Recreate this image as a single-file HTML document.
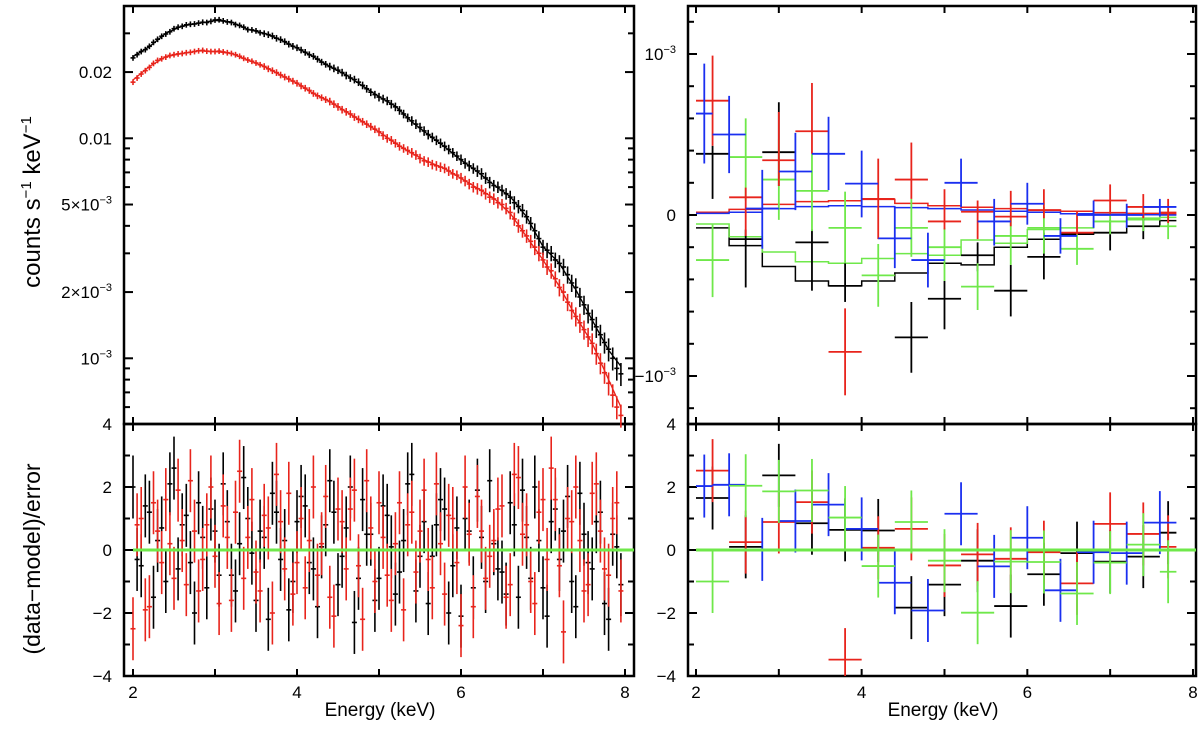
<!DOCTYPE html>
<html><head><meta charset="utf-8"><style>
html,body{margin:0;padding:0;background:#fff;}
svg{display:block;font-family:"Liberation Sans",sans-serif;}
</style></head><body>
<svg id="chart" width="1200" height="730" viewBox="0 0 1200 730" xmlns="http://www.w3.org/2000/svg">
<rect x="0" y="0" width="1200" height="730" fill="#fff"/>
<g id="layer"></g>
<text transform="translate(40,202) rotate(-90)" text-anchor="middle" font-size="24">counts s<tspan font-size="15" dy="-9">−1</tspan><tspan dy="9"> keV</tspan><tspan font-size="15" dy="-9">−1</tspan></text>
<text transform="translate(40,559) rotate(-90)" text-anchor="middle" font-size="23">(data−model)/error</text>
<text x="380" y="716" text-anchor="middle" font-size="19">Energy (keV)</text>
<text x="943" y="716" text-anchor="middle" font-size="19">Energy (keV)</text>
</svg>
<script>
// ---------- data: left spectrum ----------
const specEnergy = [2.0,2.1,2.2,2.3,2.4,2.5,2.6,2.7,2.8,2.9,3.0,3.1,3.2,3.3,3.4,3.5,3.6,3.7,3.8,3.9,4.0,4.1,4.2,4.3,4.4,4.5,4.6,4.7,4.8,4.9,5.0,5.1,5.2,5.3,5.4,5.5,5.6,5.7,5.8,5.9,6.0,6.1,6.2,6.3,6.4,6.5,6.6,6.7,6.8,6.9,7.0,7.1,7.2,7.3,7.4,7.5,7.6,7.7,7.8,7.9];
const specEnergy2 = [2.05,2.15,2.25,2.35,2.45,2.55,2.65,2.75,2.85,2.95,3.05,3.15,3.25,3.35,3.45,3.55,3.65,3.75,3.85,3.95,4.05,4.15,4.25,4.35,4.45,4.55,4.65,4.75,4.85,4.95,5.05,5.15,5.25,5.35,5.45,5.55,5.65,5.75,5.85,5.95,6.05,6.15,6.25,6.35,6.45,6.55,6.65,6.75,6.85,6.95,7.05,7.15,7.25,7.35,7.45,7.55,7.65,7.75,7.85,7.95];
const specBlack = [.0232,.0248,.0262,.0282,.0298,.0315,.0323,.0330,.0334,.0336,.0345,.0342,.0336,.0326,.0312,.0308,.0299,.0292,.0281,.0268,.0258,.0246,.0236,.0222,.0212,.0204,.0193,.0185,.0174,.0162,.0154,.0148,.0139,.0129,.0120,.0112,.0104,.0098,.0092,.0086,.0080,.0075,.0071,.0066,.0061,.0058,.0054,.0049,.0044,.0038,.0032,.0030,.0027,.0024,.0021,.00175,.00150,.00128,.00110,.00090];
const specBlack2 = [.0240,.0253,.0273,.0291,.0305,.0320,.0328,.0331,.0337,.0340,.0346,.0338,.0329,.0320,.0311,.0302,.0296,.0285,.0275,.0262,.0252,.0240,.0229,.0217,.0208,.0199,.0188,.0180,.0168,.0158,.0151,.0143,.0134,.0124,.0116,.0108,.0101,.0095,.0089,.0083,.0077,.0073,.0069,.0063,.0060,.0056,.0051,.0047,.0041,.0035,.0031,.0028,.0026,.0022,.0019,.0016,.00139,.00118,.00100,.00085];
const specRed = [.0180,.0196,.0210,.0226,.0234,.0240,.0243,.0246,.0250,.0249,.0248,.0247,.0243,.0236,.0227,.0220,.0212,.0203,.0194,.0186,.0178,.0169,.0160,.0153,.0147,.0139,.0132,.0125,.0119,.0113,.0107,.0100,.0095,.0090,.0086,.0081,.0078,.0075,.0073,.0069,.0066,.0062,.0059,.0056,.0053,.0050,.0046,.0040,.0036,.0032,.0028,.0025,.0021,.0018,.00155,.00135,.00117,.00095,.00077,.00060];
const specRed2 = [.0188,.0203,.0219,.0230,.0238,.0242,.0245,.0248,.0251,.0248,.0249,.0245,.0240,.0231,.0224,.0216,.0207,.0199,.0190,.0182,.0173,.0165,.0156,.0150,.0143,.0135,.0129,.0122,.0116,.0110,.0103,.0098,.0092,.0088,.0084,.0079,.0076,.0074,.0071,.0068,.0064,.0060,.0058,.0054,.0051,.0048,.0043,.0038,.0034,.0030,.0026,.0023,.0020,.00165,.00145,.00125,.00105,.00086,.00068,.00055];
const specErrFrac = [.03,.03,.03,.03,.03,.03,.03,.03,.03,.03,.03,.03,.03,.03,.03,.03,.035,.035,.035,.035,.035,.035,.035,.035,.04,.04,.04,.04,.04,.04,.045,.045,.045,.045,.05,.05,.05,.05,.05,.05,.055,.055,.06,.06,.06,.06,.07,.07,.07,.08,.08,.08,.09,.09,.1,.1,.11,.11,.12,.12];
const modelEnergy = [2.0,2.2,2.4,2.6,2.8,3.0,3.2,3.4,3.6,3.8,4.0,4.2,4.4,4.6,4.8,5.0,5.2,5.4,5.6,5.8,6.0,6.2,6.4,6.6,6.8,7.0,7.2,7.4,7.6,7.8,7.95];
const modelBlack = [.0235,.0261,.0300,.0324,.0333,.0343,.0338,.0313,.0300,.0280,.0257,.0235,.0212,.0194,.0173,.01546,.0140,.0119,.0104,.00917,.00797,.00706,.00614,.00543,.0044,.00322,.0027,.00205,.00149,.00109,.00092];
const modelRed = [.0184,.0212,.0235,.0243,.0250,.0248,.0243,.0227,.0212,.0194,.0178,.0160,.0147,.0132,.0119,.0107,.0095,.00855,.00783,.0073,.00658,.00593,.00534,.00456,.00357,.0028,.00212,.00155,.00117,.00080,.00060];
// ---------- data: left residuals ----------
const resBlack = [2.0,-0.5,1.2,0.3,-1.0,2.6,0.8,-0.4,1.5,-1.2,0.6,2.1,-0.8,0.2,1.0,-1.6,0.4,1.8,-0.3,-1.9,0.9,1.4,-0.6,0.1,2.2,-1.1,0.7,-2.3,1.6,0.5,-0.9,1.1,-1.4,0.3,2.4,-0.2,-1.7,0.8,1.3,-0.5,-2.1,0.6,1.9,-1.0,0.2,-0.7,1.5,-1.5,0.4,2.0,-1.2,0.9,-0.3,1.7,-1.8,0.5,-0.6,1.2,-2.2,0.1];
const resBlack2 = [-0.3,1.4,-1.5,0.7,2.1,-0.6,1.1,-2.0,0.4,1.3,-0.8,0.9,-1.3,2.3,-0.1,0.6,-2.2,1.2,0.3,-1.0,1.7,-0.4,-1.8,0.8,1.2,-0.2,2.0,-0.9,0.5,-1.6,1.4,0.1,-0.7,2.1,-1.3,0.9,-0.2,1.6,-2.0,0.7,1.0,-1.2,0.4,2.2,-0.6,-1.4,0.8,1.9,-0.9,0.3,-2.1,1.3,0.6,-1.0,1.8,-0.4,0.9,-1.7,0.5,-1.1];
const resRed = [-2.5,1.0,-1.8,0.6,1.6,-0.9,0.3,2.2,-1.3,0.8,-0.2,1.4,-1.6,2.5,0.4,-0.7,1.1,-2.0,0.9,1.8,-0.4,-1.2,2.0,0.2,-1.5,1.3,-0.6,1.9,-2.2,0.7,1.5,-0.8,0.2,-1.9,1.2,0.6,-0.3,2.1,-1.4,1.0,-2.4,0.5,1.7,-0.9,0.3,1.4,-1.1,2.3,0.8,-1.7,1.6,2.6,-0.5,1.0,2.0,-1.3,1.8,0.6,-0.8,1.5];
const resRed2 = [0.8,-1.9,1.5,-0.4,0.2,1.9,-1.1,0.6,-0.3,2.0,-1.7,0.4,1.2,-0.9,1.6,-1.3,0.7,2.4,-0.6,-1.4,1.0,0.3,-0.8,1.7,-2.1,0.9,1.3,-0.5,2.2,-1.0,0.4,-1.6,1.5,0.8,-0.7,1.9,-1.2,0.2,1.1,-0.4,2.0,-1.8,0.6,-0.2,1.3,-1.5,2.4,0.5,-1.0,1.2,-0.3,1.6,-2.6,0.9,0.3,-1.1,2.1,-0.6,1.0,-1.3];
// ---------- data: right panel (units of 1e-3) ----------
const binCenters = [2.2,2.6,3.0,3.4,3.8,4.2,4.6,5.0,5.4,5.8,6.2,6.6,7.0,7.4,7.7];
const binHalf = [.2,.2,.2,.2,.2,.2,.2,.2,.2,.2,.2,.2,.2,.2,.1];
const blueCenters = [2.1,2.4,2.8,3.2,3.6,4.0,4.4,4.8,5.2,5.6,6.0,6.4,6.8,7.2,7.6];
const blueHalf = [.1,.2,.2,.2,.2,.2,.2,.2,.2,.2,.2,.2,.2,.2,.2];
const rBlackY = [.38,-.15,.39,-.17,-.44,null,-.76,-.52,-.25,-.47,-.26,null,-.11,-.07,null];
const rBlackLo = [.10,-.45,.18,-.47,-.54,null,-.98,-.71,-.35,-.63,-.40,null,-.22,-.15,null];
const rBlackHi = [.43,-.09,.70,-.09,-.30,null,-.54,-.41,-.17,-.31,-.11,null,-.03,.0,null];
const rRedY = [.71,.11,.34,.52,-.85,.10,.22,-.04,.02,-.01,.03,-.11,.09,.05,.015];
const rRedLo = [.43,-.13,.18,.38,-1.12,-.15,.10,-.09,-.15,-.07,-.02,-.12,.0,-.02,-.05];
const rRedHi = [.99,.17,.64,.82,-.58,.35,.45,.16,.09,.15,.16,.02,.19,.13,.1];
const rBlueY = [.63,.50,.04,.27,.38,.195,-.145,-.28,.20,-.04,.07,-.13,0,0,.05];
const rBlueLo = [.32,.26,-.21,.03,.155,-.015,-.33,-.45,.05,-.19,-.06,-.24,-.08,-.08,-.01];
const rBlueHi = [.94,.74,.28,.51,.61,.40,.05,-.11,.35,.10,.20,-.02,.09,.07,.10];
const rGreenY = [-.28,.36,.22,.15,-.08,-.375,-.08,-.20,-.445,-.13,-.08,-.21,-.04,-.02,-.07];
const rGreenLo = [-.51,.09,-.03,-.10,-.30,-.57,-.26,-.41,-.59,-.31,-.24,-.31,-.12,-.10,-.15];
const rGreenHi = [-.06,.60,.47,.38,.145,-.18,.10,-.08,-.30,-.01,.05,-.12,.02,.05,.0];
const modelEdges = [2.0,2.4,2.8,3.2,3.6,4.0,4.4,4.8,5.2,5.6,6.0,6.4,6.8,7.2,7.6,7.8];
const mBlack = [-.08,-.19,-.32,-.41,-.44,-.41,-.36,-.30,-.31,-.20,-.15,-.12,-.11,-.07,-.035];
const mRed = [.017,.035,.066,.083,.089,.097,.072,.058,.048,.04,.031,.023,.015,.01,.006];
const mBlue = [.01,.017,.04,.052,.058,.052,.046,.04,.031,.023,.017,.008,.004,.002,.0];
const mGreen = [-.056,-.135,-.23,-.29,-.30,-.27,-.24,-.25,-.155,-.175,-.09,-.08,-.04,-.03,-.015];
const chiBlack = [1.65,.1,2.37,.85,.64,.62,-1.83,-1.1,-.34,-1.78,-.77,-.1,-.37,-.21,.55];
const chiRed = [2.52,.25,.89,1.52,-3.48,.07,.67,-.49,-.14,-.28,-.07,-1.06,.83,.51,.1];
const chiBlue = [2.03,2.07,.02,.92,1.44,.67,-1.04,-1.92,1.15,-.52,.39,-1.28,-.07,-.1,.87];
const chiGreen = [-1.0,2.04,1.86,1.89,1.03,-.51,.89,-.34,-1.99,-.37,-.38,-1.38,-.4,.17,-.69];

const NS = 'http://www.w3.org/2000/svg';
const layer = document.getElementById('layer');
function mk(tag, attrs, parent){
  const e = document.createElementNS(NS, tag);
  for (const k in attrs) e.setAttribute(k, attrs[k]);
  (parent||layer).appendChild(e);
  return e;
}
const C = {black:'#000', red:'#e8241c', blue:'#1a2ff0', green:'#6fe84a'};

const xL = e => 133 + (e - 2) * 82;
const xR = e => 696 + (e - 2) * 82.83;
const yLog = v => 138.3 - Math.log10(v / 0.01) * 220;
const yRes = r => 550 - r * 31.5;
const yLin = v => 215 - v * 161;

function frame(x0, y0, x1, y1, name){
  const r = mk('rect', {x:x0, y:y0, width:x1-x0, height:y1-y0, fill:'none', stroke:'#000', 'stroke-width':2.5});
  
  
}
function tick(x1,y1,x2,y2){ mk('line',{x1,y1,x2,y2,stroke:'#000','stroke-width':2}); }
function label(x,y,txt,anchor,name){
  const t = mk('text',{x,y,'text-anchor':anchor,'font-size':17});
  t.textContent = txt;
  
  
  return t;
}
function supLabel(x,y,pre,sup,name){
  const t = mk('text',{x,y,'text-anchor':'end','font-size':17});
  
  
  const a = document.createElementNS(NS,'tspan'); a.textContent = pre; t.appendChild(a);
  const b = document.createElementNS(NS,'tspan'); b.setAttribute('font-size','11'); b.setAttribute('dy','-7'); b.textContent = sup; t.appendChild(b);
  return t;
}

frame(124, 6, 634, 424, 'spectrum-panel');
frame(124, 424, 634, 676, 'residual-panel-left');
frame(688, 6, 1196, 424, 'difference-panel');
frame(688, 424, 1196, 676, 'residual-panel-right');

const xTicks = [2,3,4,5,6,7,8];
const xTickLabels = ['2','4','6','8'];
[[xL,124,634],[xR,688,1196]].forEach(([fx,lo,hi],pi)=>{
  xTicks.forEach(v=>{
    const x = fx(v);
    if (x < lo || x > hi) return;
    [[6,13],[424,417],[424,431],[676,669]].forEach(([a,b])=>tick(x,a,x,b));
  });
  xTickLabels.forEach(s=>{
    label(fx(+s), 698, s, 'middle', (pi? 'right':'left')+'-x-tick-'+s);
  });
});

const logTickVals = [0.04,0.03,0.02,0.01,0.009,0.008,0.007,0.006,0.005,0.004,0.003,0.002,0.001,0.0009,0.0008,0.0007,0.0006];
logTickVals.forEach(v=>{
  const y = yLog(v); if (y<6||y>424) return;
  const L = [0.02,0.01,0.005,0.002,0.001].includes(v) ? 9 : 6;
  tick(124,y,124+L,y); tick(634,y,634-L,y);
});
label(112, yLog(0.02)+6, '0.02', 'end', 'y-tick-0.02');
label(112, yLog(0.01)+6, '0.01', 'end', 'y-tick-0.01');
supLabel(112, yLog(0.005)+6, '5×10', '−3', 'y-tick-5e-3');
supLabel(112, yLog(0.002)+6, '2×10', '−3', 'y-tick-2e-3');
supLabel(112, yLog(0.001)+6, '10', '−3', 'y-tick-1e-3');

const resTicks = [-4,-3,-2,-1,0,1,2,3,4];
const resTickLabels = ['−4','−2','0','2','4'];
[[124,634],[688,1196]].forEach(([a,b],pi)=>{
  resTicks.forEach(v=>{
    const y = yRes(v); const L = v%2===0 ? 9 : 6;
    tick(a,y,a+L,y); tick(b,y,b-L,y);
  });
  resTickLabels.forEach(s=>{
    const v = +s.replace('−','-');
    label(a-12, yRes(v)+6, s, 'end', (pi?'right':'left')+'-res-tick-'+v);
  });
});

const linTicks = [-1.2,-1.0,-0.8,-0.6,-0.4,-0.2,0,0.2,0.4,0.6,0.8,1.0,1.2];
linTicks.forEach(v=>{
  const y = yLin(v); const L = (Math.abs(v)===1||v===0) ? 9 : 6;
  tick(688,y,688+L,y); tick(1196,y,1196-L,y);
});
supLabel(676, yLin(1)+6, '10', '−3', 'right-y-tick-1e-3');
label(676, yLin(0)+6, '0', 'end', 'right-y-tick-0');
supLabel(676, yLin(-1)+6, '−10', '−3', 'right-y-tick-neg1e-3');

function modelLine(xs, ys, color, name){
  let d = '';
  xs.forEach((e,i)=>{ d += (i?'L':'M') + xL(e).toFixed(1) + ' ' + yLog(ys[i]).toFixed(1); });
  const p = mk('path',{d, fill:'none', stroke:color, 'stroke-width':1.3});
  
  
}
modelLine(modelEnergy, modelBlack, C.black, 'model-black');
modelLine(modelEnergy, modelRed, C.red, 'model-red');
function specPoints(es, vals, color, name){
  const g = mk('g',{stroke:color,'stroke-width':1.6});
  
  
  vals.forEach((v,i)=>{
    const x = xL(es[i]), f = specErrFrac[i];
    mk('line',{x1:x,x2:x,y1:yLog(v*(1+f)),y2:yLog(v*(1-f))},g);
    mk('line',{x1:x-2.5,x2:x+2.5,y1:yLog(v),y2:yLog(v)},g);
  });
}
specPoints(specEnergy, specBlack, C.black, 'spectrum-black');
specPoints(specEnergy2, specBlack2, C.black, 'spectrum-black-b');
specPoints(specEnergy, specRed, C.red, 'spectrum-red');
specPoints(specEnergy2, specRed2, C.red, 'spectrum-red-b');

function resPoints(es, vals, color, name){
  const g = mk('g',{stroke:color,'stroke-width':1.6});
  
  
  vals.forEach((v,i)=>{
    const x = xL(es[i]);
    mk('line',{x1:x,x2:x,y1:yRes(v+1),y2:yRes(v-1)},g);
    mk('line',{x1:x-2.5,x2:x+2.5,y1:yRes(v),y2:yRes(v)},g);
  });
}
resPoints(specEnergy, resBlack, C.black, 'residuals-black');
resPoints(specEnergy2, resBlack2, C.black, 'residuals-black-b');
resPoints(specEnergy, resRed, C.red, 'residuals-red');
resPoints(specEnergy2, resRed2, C.red, 'residuals-red-b');
const zl = mk('line',{x1:xL(2),x2:634,y1:yRes(0),y2:yRes(0),stroke:C.green,'stroke-width':3});



function stepLine(vals, color, name){
  let d = '';
  vals.forEach((v,i)=>{
    const y = yLin(v).toFixed(1);
    d += (i?'L':'M') + xR(modelEdges[i]).toFixed(1) + ' ' + y + 'L' + xR(modelEdges[i+1]).toFixed(1) + ' ' + y;
  });
  const p = mk('path',{d, fill:'none', stroke:color, 'stroke-width':1.5});
  
  
}
stepLine(mBlack, C.black, 'diff-model-black');
stepLine(mGreen, C.green, 'diff-model-green');
stepLine(mRed, C.red, 'diff-model-red');
stepLine(mBlue, C.blue, 'diff-model-blue');
function crosses(cs, hs, ys, lo, hi, color, name){
  const g = mk('g',{stroke:color,'stroke-width':1.8});
  
  
  ys.forEach((v,i)=>{
    if (v===null) return;
    const x = xR(cs[i]);
    mk('line',{x1:x,x2:x,y1:yLin(hi[i]),y2:yLin(lo[i])},g);
    mk('line',{x1:xR(cs[i]-hs[i]),x2:xR(cs[i]+hs[i]),y1:yLin(v),y2:yLin(v)},g);
  });
}
crosses(binCenters, binHalf, rBlackY, rBlackLo, rBlackHi, C.black, 'diff-data-black');
crosses(binCenters, binHalf, rGreenY, rGreenLo, rGreenHi, C.green, 'diff-data-green');
crosses(binCenters, binHalf, rRedY, rRedLo, rRedHi, C.red, 'diff-data-red');
crosses(blueCenters, blueHalf, rBlueY, rBlueLo, rBlueHi, C.blue, 'diff-data-blue');

function chiCrosses(cs, hs, vals, color, name){
  const g = mk('g',{stroke:color,'stroke-width':1.8});
  
  
  vals.forEach((v,i)=>{
    const x = xR(cs[i]);
    mk('line',{x1:x,x2:x,y1:Math.max(424,yRes(v+1)),y2:Math.min(676,yRes(v-1))},g);
    mk('line',{x1:xR(cs[i]-hs[i]),x2:xR(cs[i]+hs[i]),y1:yRes(v),y2:yRes(v)},g);
  });
}
chiCrosses(binCenters, binHalf, chiBlack, C.black, 'chi-black');
chiCrosses(binCenters, binHalf, chiRed, C.red, 'chi-red');
chiCrosses(blueCenters, blueHalf, chiBlue, C.blue, 'chi-blue');
chiCrosses(binCenters, binHalf, chiGreen, C.green, 'chi-green');
const zr = mk('line',{x1:xR(2),x2:1196,y1:yRes(0),y2:yRes(0),stroke:C.green,'stroke-width':3});


</script>
</body></html>
